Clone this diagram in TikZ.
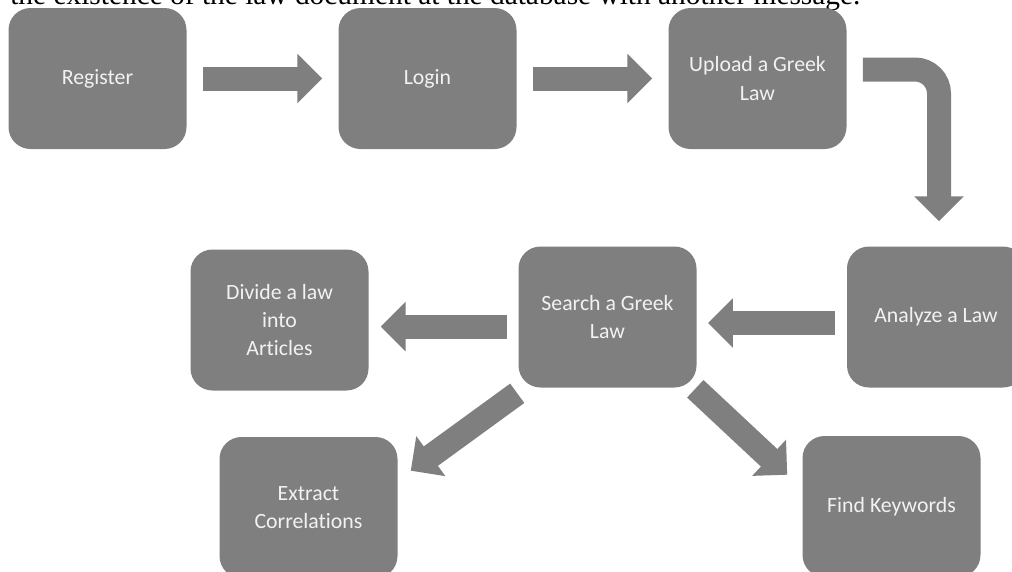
\documentclass[tikz,border=0pt]{standalone}
\usepackage{fontspec}
\setmainfont[Ligatures=NoCommon]{Carlito}
\newfontfamily\docfont{Liberation Serif}
\usetikzlibrary{positioning}
\usetikzlibrary{arrows.meta}
\definecolor{boxgray}{HTML}{7F7F7F}
\definecolor{boxtext}{HTML}{F2F2F2}

\begin{document}
\begin{tikzpicture}
    \tikzset{
      box/.style={rectangle, fill=boxgray, text=boxtext, rounded corners=0.55cm, minimum width=4.45cm, minimum height=3.525cm, align=center, font=\fontsize{15.5}{20}\selectfont, on grid},
      line/.style={draw=boxgray, line width=0.6cm, -{Triangle[width=1.2cm, length=0.62cm]}, shorten <=0.4cm, shorten >=0.4cm}
    }
    \useasboundingbox (0,0) rectangle (25.3,-14.275);
    \clip (0,0) rectangle (25.3,-14.275);
    \node [anchor=base west, inner sep=0, font=\docfont\fontsize{20.9}{24}\selectfont] (intro) at (0.25,-0.1125) {the existence of the law document at the database with another message.};
    \node [box] (reg) at (2.4375,-1.9625) {Register};
    \node [box, right=8.25cm of reg] (login) {Login};
    \node [box, right=8.25cm of login] (upload) {Upload a Greek\\Law};
    \node [box, below right=5.9625cm and 4.4625cm of upload] (analyze) {Analyze a Law};
    \node [box, left=8.2125cm of analyze] (search) {Search a Greek\\Law};
    \node [box, below left=0.075cm and 8.2cm of search] (divide) {Divide a law\\into\\Articles};
    \node [box, below left=4.7625cm and 7.475cm of search] (extract) {Extract\\Correlations};
    \node [box, below right=4.7375cm and 7.1cm of search] (keys) {Find Keywords};

    \path [line] (reg) -- (login);
    \path [line] (login) -- (upload);
    \path [line, rounded corners=0.6cm, shorten >=0pt] ([yshift=0.225cm]upload.east) -| ([xshift=0.075cm, yshift=0.625cm]analyze.north);
    \path [line, shorten <=0.3cm, shorten >=0.28cm] ([yshift=-0.15cm]analyze.west) -- ([yshift=-0.15cm]search.east);
    \path [line, shorten <=0.28cm, shorten >=0.3cm] ([yshift=-0.24cm]search.west) -- ([yshift=-0.24cm]search.west -| divide.east);
    \path [line, shorten <=0pt, shorten >=0pt] ([shift={(-0.025,-0.1375)}]search.south west) -- ([shift={(0.325,-0.85)}]extract.north east);
    \path [line, shorten <=0pt, shorten >=0pt] ([shift={(-0.0375,-0.025)}]search.south east) -- ([shift={(-0.375,-0.975)}]keys.north west);
\end{tikzpicture}
\end{document}
